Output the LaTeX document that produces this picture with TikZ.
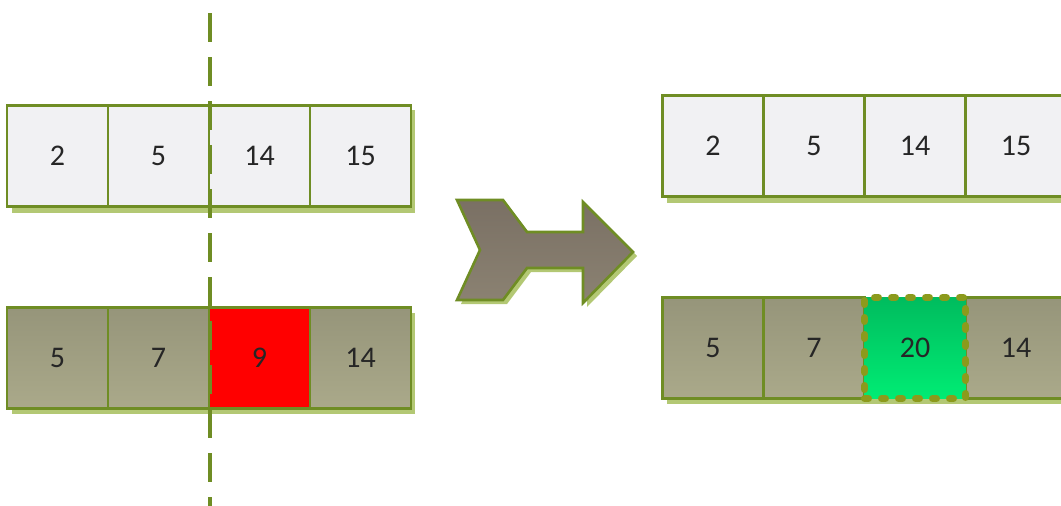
\documentclass[tikz,border=0pt]{standalone}
\usepackage{fontspec}
\setmainfont{Carlito}
\definecolor{cellline}{HTML}{6F8D24}
\definecolor{lightcell}{HTML}{F1F1F3}
\definecolor{darktop}{HTML}{96957A}
\definecolor{darkbot}{HTML}{AAA98A}
\definecolor{shadowgreen}{HTML}{B3C874}
\definecolor{hotred}{HTML}{FF0000}
\definecolor{newtop}{HTML}{00BC5E}
\definecolor{newbot}{HTML}{00EC74}
\definecolor{newline}{HTML}{8C9A1C}
\definecolor{arrowtop}{HTML}{7A7064}
\definecolor{arrowbot}{HTML}{8B8272}
\tikzset{
  cell/.style={draw=cellline, line width=2.6pt, minimum width=101pt,
    minimum height=101pt, inner sep=0pt, text=black!85,
    font=\fontsize{30}{30}\selectfont},
  light/.style={cell, fill=lightcell},
  dark/.style={cell, top color=darktop, bottom color=darkbot},
}
\begin{document}
\begin{tikzpicture}[x=1pt,y=-1pt]
  \useasboundingbox (0,0) rectangle (1061,506);
  \clip (0,0) rectangle (1061,506);
  % shadows
  \fill[shadowgreen] (12,110) rectangle (415,213);
  \fill[shadowgreen] (12,313) rectangle (415,414);
  \fill[shadowgreen] (667,100) rectangle (1070,203);
  \fill[shadowgreen] (667,303) rectangle (1070,404);
  % before
  \draw
    (57.5,156) node[light] (a1){2}
    (158.5,156) node[light] (a2){5}
    (259.5,156) node[light] (a3){14}
    (360.5,156) node[light] (a4){15};
  \draw
    (57.5,358) node[dark] (b1){5}
    (158.5,358) node[dark] (b2){7}
    (259.5,358) node[cell, fill=hotred] (b3){9}
    (360.5,358) node[dark] (b4){14};
  % cut line
  \coordinate (cuttop) at (210,13);
  \coordinate (cutbot) at (210,506);
  \draw[cellline, line width=3.4pt, dash pattern=on 29pt off 15pt] (cuttop) -- (cutbot);
  % big arrow
  \fill[shadowgreen, shift={(4,4)}]
    (457,200) -- (503,200) -- (527,232) -- (583,232) -- (583,202) -- (633,252)
    -- (583,303) -- (583,268) -- (527,268) -- (503,300) -- (457,300) -- (480,250) -- cycle;
  \draw[cellline, line width=2.6pt, top color=arrowtop, bottom color=arrowbot]
    (457,200) -- (503,200) -- (527,232) -- (583,232) -- (583,202) -- (633,252)
    -- (583,303) -- (583,268) -- (527,268) -- (503,300) -- (457,300) -- (480,250) -- cycle;
  % after
  \draw
    (713,146) node[light] (c1){2}
    (814,146) node[light] (c2){5}
    (915,146) node[light] (c3){14}
    (1016,146) node[light] (c4){15};
  \draw
    (713,348) node[dark] (d1){5}
    (814,348) node[dark] (d2){7}
    (1016,348) node[dark] (d4){14};
  \node[cell, draw=newline, line width=7pt, line cap=round,
    dash pattern=on 4pt off 13pt, top color=newtop, bottom color=newbot]
    (d3) at (915,348) {20};
\end{tikzpicture}
\end{document}
